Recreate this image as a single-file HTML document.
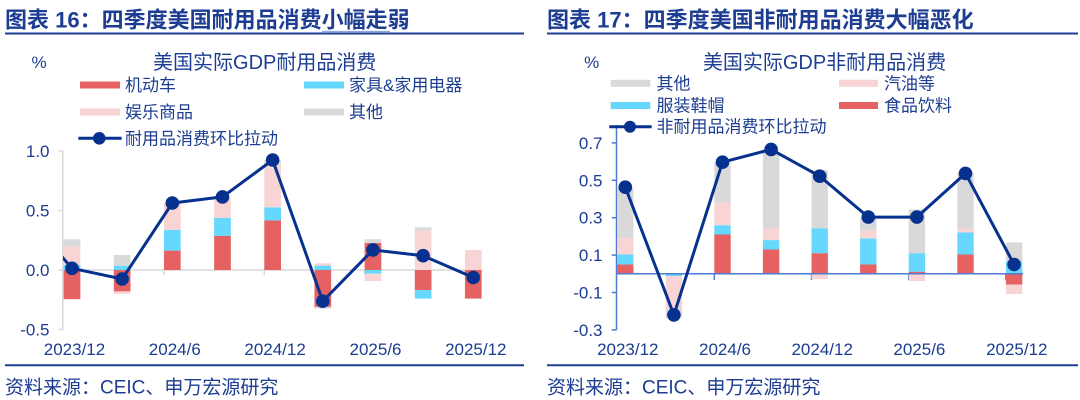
<!DOCTYPE html>
<html><head><meta charset="utf-8"><style>
html,body{margin:0;padding:0;background:#fff;}
svg{display:block;}
text{font-family:"Liberation Sans","Noto Sans CJK SC",sans-serif;fill:#1c3d92;}
</style></head><body>
<svg width="1080" height="400" viewBox="0 0 1080 400" xmlns="http://www.w3.org/2000/svg">
<defs>
<clipPath id="cl"><rect x="63" y="100" width="430" height="250"/></clipPath>
</defs>
<!-- Titles -->
<text x="5" y="27.5" font-size="22" font-weight="bold">图表 16：四季度美国耐用品消费小幅走弱</text>
<line x1="322" y1="31.5" x2="390" y2="31.5" stroke="#8ea6dc" stroke-width="1.2"/>
<line x1="5" y1="33.5" x2="524" y2="33.5" stroke="#1f3d94" stroke-width="2"/>
<text x="547" y="27.5" font-size="22" font-weight="bold">图表 17：四季度美国非耐用品消费大幅恶化</text>
<line x1="547" y1="33.5" x2="1078" y2="33.5" stroke="#1f3d94" stroke-width="2"/>

<!-- LEFT CHART -->
<text x="39" y="68" font-size="17" text-anchor="middle">%</text>
<text x="264.7" y="69" font-size="20" text-anchor="middle">美国实际GDP耐用品消费</text>
<rect x="80" y="81.5" width="40" height="7" fill="#e66161"/>
<text x="125" y="91" font-size="17">机动车</text>
<rect x="304" y="81.5" width="40" height="7" fill="#66d8fd"/>
<text x="349" y="91" font-size="17">家具&amp;家用电器</text>
<rect x="80" y="108.5" width="40" height="7" fill="#f9d4d4"/>
<text x="125" y="118" font-size="17">娱乐商品</text>
<rect x="304" y="108.5" width="40" height="7" fill="#d9d9d9"/>
<text x="349" y="118" font-size="17">其他</text>
<line x1="78.3" y1="138.3" x2="121.7" y2="138.3" stroke="#06318f" stroke-width="3"/>
<circle cx="99.3" cy="138.3" r="6.3" fill="#06318f"/>
<text x="125" y="144.3" font-size="17">耐用品消费环比拉动</text>

<!-- axes -->
<line x1="62.8" y1="150.7" x2="62.8" y2="329.5" stroke="#d9d9d9" stroke-width="1.5"/>
<g stroke="#d9d9d9" stroke-width="1.5">
<line x1="58.5" y1="151" x2="62.8" y2="151"/>
<line x1="58.5" y1="210.5" x2="62.8" y2="210.5"/>
<line x1="58.5" y1="270" x2="62.8" y2="270"/>
<line x1="58.5" y1="329.5" x2="62.8" y2="329.5"/>
<line x1="62.8" y1="270" x2="482" y2="270"/>
<line x1="164" y1="270" x2="164" y2="275"/>
<line x1="264.3" y1="270" x2="264.3" y2="275"/>
<line x1="364.6" y1="270" x2="364.6" y2="275"/>
<line x1="464.9" y1="270" x2="464.9" y2="275"/>
</g>
<g font-size="17" text-anchor="end">
<text x="49.5" y="157">1.0</text>
<text x="49.5" y="216.5">0.5</text>
<text x="49.5" y="276">0.0</text>
<text x="49.5" y="335.5">-0.5</text>
</g>
<g font-size="17" text-anchor="middle">
<text x="74.5" y="355">2023/12</text>
<text x="174.8" y="355">2024/6</text>
<text x="275.1" y="355">2024/12</text>
<text x="375.5" y="355">2025/6</text>
<text x="475.8" y="355">2025/12</text>
</g>
<!-- bars left -->
<g>
<rect x="63.65" y="270" width="16.7" height="29.2" fill="#e66161"/>
<rect x="63.65" y="265" width="16.7" height="5" fill="#66d8fd"/>
<rect x="63.65" y="246.6" width="16.7" height="18.4" fill="#f9d4d4"/>
<rect x="63.65" y="239.3" width="16.7" height="7.3" fill="#d9d9d9"/>

<rect x="113.8" y="265.7" width="16.7" height="4.3" fill="#66d8fd"/>
<rect x="113.8" y="255" width="16.7" height="10.7" fill="#d9d9d9"/>
<rect x="113.8" y="270" width="16.7" height="21.4" fill="#e66161"/>
<rect x="113.8" y="291.4" width="16.7" height="2.4" fill="#f9d4d4"/>

<rect x="163.97" y="250.6" width="16.7" height="19.4" fill="#e66161"/>
<rect x="163.97" y="229.8" width="16.7" height="20.8" fill="#66d8fd"/>
<rect x="163.97" y="203" width="16.7" height="26.8" fill="#f9d4d4"/>

<rect x="214.13" y="235.8" width="16.7" height="34.2" fill="#e66161"/>
<rect x="214.13" y="217.8" width="16.7" height="18" fill="#66d8fd"/>
<rect x="214.13" y="197.9" width="16.7" height="19.9" fill="#f9d4d4"/>

<rect x="264.29" y="220.4" width="16.7" height="49.6" fill="#e66161"/>
<rect x="264.29" y="207.3" width="16.7" height="13.1" fill="#66d8fd"/>
<rect x="264.29" y="164.4" width="16.7" height="42.9" fill="#f9d4d4"/>
<rect x="264.29" y="160" width="16.7" height="4.4" fill="#d9d9d9"/>

<rect x="314.45" y="270" width="16.7" height="36.9" fill="#e66161"/>
<rect x="314.45" y="306.9" width="16.7" height="1.7" fill="#d9d9d9"/>
<rect x="314.45" y="265.6" width="16.7" height="4.4" fill="#66d8fd"/>
<rect x="314.45" y="263.3" width="16.7" height="2.3" fill="#f9d4d4"/>

<rect x="364.61" y="242.9" width="16.7" height="27.1" fill="#e66161"/>
<rect x="364.61" y="239.2" width="16.7" height="3.7" fill="#d9d9d9"/>
<rect x="364.61" y="270" width="16.7" height="3.7" fill="#66d8fd"/>
<rect x="364.61" y="273.7" width="16.7" height="7.4" fill="#f9d4d4"/>

<rect x="414.77" y="270" width="16.7" height="20.1" fill="#e66161"/>
<rect x="414.77" y="290.1" width="16.7" height="8.5" fill="#66d8fd"/>
<rect x="414.77" y="230.7" width="16.7" height="39.3" fill="#f9d4d4"/>
<rect x="414.77" y="227.4" width="16.7" height="3.3" fill="#d9d9d9"/>

<rect x="464.93" y="270" width="16.7" height="28.6" fill="#e66161"/>
<rect x="464.93" y="250" width="16.7" height="20" fill="#f9d4d4"/>
</g>
<polyline clip-path="url(#cl)" points="21.84,210.6 72,268.3 122.16,279 172.32,203 222.48,196.9 272.64,160 322.8,301.2 372.96,249.9 423.12,255.7 473.28,277.5" fill="none" stroke="#06318f" stroke-width="3" stroke-linejoin="round"/>
<g fill="#06318f">
<circle cx="72" cy="268.3" r="6.8"/>
<circle cx="122.16" cy="279" r="6.8"/>
<circle cx="172.32" cy="203" r="6.8"/>
<circle cx="222.48" cy="196.9" r="6.8"/>
<circle cx="272.64" cy="160" r="6.8"/>
<circle cx="322.8" cy="301.2" r="6.8"/>
<circle cx="372.96" cy="249.9" r="6.8"/>
<circle cx="423.12" cy="255.7" r="6.8"/>
<circle cx="473.28" cy="277.5" r="6.8"/>
</g>
<line x1="5" y1="365.3" x2="524" y2="365.3" stroke="#1f3d94" stroke-width="2"/>
<text x="5" y="393.3" font-size="19">资料来源：CEIC、申万宏源研究</text>

<!-- RIGHT CHART -->
<text x="591.7" y="68" font-size="17" text-anchor="middle">%</text>
<text x="824.5" y="69" font-size="20" text-anchor="middle">美国实际GDP非耐用品消费</text>
<rect x="610.7" y="79.8" width="39.6" height="7" fill="#d9d9d9"/>
<text x="656.5" y="89.3" font-size="17">其他</text>
<rect x="839" y="79.8" width="39" height="7" fill="#f9d4d4"/>
<text x="884" y="89.3" font-size="17">汽油等</text>
<rect x="610.7" y="102" width="39.6" height="7" fill="#66d8fd"/>
<text x="656.5" y="111.5" font-size="17">服装鞋帽</text>
<rect x="839" y="102" width="39" height="7" fill="#e66161"/>
<text x="884" y="111.5" font-size="17">食品饮料</text>

<!-- axes -->
<line x1="616.5" y1="125" x2="616.5" y2="330" stroke="#4f7bd2" stroke-width="1.5"/>
<g stroke="#4f7bd2" stroke-width="1.5">
<line x1="611.7" y1="142.9" x2="616.5" y2="142.9"/>
<line x1="611.7" y1="180.3" x2="616.5" y2="180.3"/>
<line x1="611.7" y1="217.7" x2="616.5" y2="217.7"/>
<line x1="611.7" y1="255.1" x2="616.5" y2="255.1"/>
<line x1="611.7" y1="292.5" x2="616.5" y2="292.5"/>
<line x1="611.7" y1="329.9" x2="616.5" y2="329.9"/>
<line x1="616.5" y1="273.8" x2="1023" y2="273.8"/>
<line x1="714.3" y1="273.8" x2="714.3" y2="280"/>
<line x1="811.5" y1="273.8" x2="811.5" y2="280"/>
<line x1="908.7" y1="273.8" x2="908.7" y2="280"/>
<line x1="1005.9" y1="273.8" x2="1005.9" y2="280"/>
</g>
<line x1="609.3" y1="126.7" x2="651.7" y2="126.7" stroke="#06318f" stroke-width="3"/>
<circle cx="630" cy="126.7" r="6" fill="#06318f"/>
<text x="656.5" y="132.7" font-size="17">非耐用品消费环比拉动</text>
<g font-size="17" text-anchor="end">
<text x="602.5" y="148.9">0.7</text>
<text x="602.5" y="186.3">0.5</text>
<text x="602.5" y="223.7">0.3</text>
<text x="602.5" y="261.1">0.1</text>
<text x="602.5" y="298.5">-0.1</text>
<text x="602.5" y="335.9">-0.3</text>
</g>
<g font-size="17" text-anchor="middle">
<text x="627.8" y="355">2023/12</text>
<text x="725" y="355">2024/6</text>
<text x="822.2" y="355">2024/12</text>
<text x="919.4" y="355">2025/6</text>
<text x="1016.8" y="355">2025/12</text>
</g>
<g>
<rect x="617.1" y="264.45" width="16.4" height="9.35" fill="#e66161"/>
<rect x="617.1" y="254.5" width="16.4" height="9.95" fill="#66d8fd"/>
<rect x="617.1" y="237.7" width="16.4" height="16.8" fill="#f9d4d4"/>
<rect x="617.1" y="187.8" width="16.4" height="49.9" fill="#d9d9d9"/>

<rect x="665.7" y="273.8" width="16.4" height="0.8" fill="#e66161"/>
<rect x="665.7" y="274.6" width="16.4" height="1.5" fill="#66d8fd"/>
<rect x="665.7" y="276.1" width="16.4" height="32.3" fill="#f9d4d4"/>
<rect x="665.7" y="308.4" width="16.4" height="9.3" fill="#d9d9d9"/>

<rect x="714.3" y="234.5" width="16.4" height="39.3" fill="#e66161"/>
<rect x="714.3" y="225.2" width="16.4" height="9.3" fill="#66d8fd"/>
<rect x="714.3" y="202.7" width="16.4" height="22.5" fill="#f9d4d4"/>
<rect x="714.3" y="162.7" width="16.4" height="40" fill="#d9d9d9"/>

<rect x="762.9" y="249.5" width="16.4" height="24.3" fill="#e66161"/>
<rect x="762.9" y="240.1" width="16.4" height="9.4" fill="#66d8fd"/>
<rect x="762.9" y="228.5" width="16.4" height="11.6" fill="#f9d4d4"/>
<rect x="762.9" y="150.4" width="16.4" height="78.1" fill="#d9d9d9"/>

<rect x="811.5" y="253.2" width="16.4" height="20.6" fill="#e66161"/>
<rect x="811.5" y="228.5" width="16.4" height="24.7" fill="#66d8fd"/>
<rect x="811.5" y="170.2" width="16.4" height="58.3" fill="#d9d9d9"/>
<rect x="811.5" y="273.8" width="16.4" height="5.4" fill="#f9d4d4"/>

<rect x="860.1" y="264.45" width="16.4" height="9.35" fill="#e66161"/>
<rect x="860.1" y="238.3" width="16.4" height="26.15" fill="#66d8fd"/>
<rect x="860.1" y="230.4" width="16.4" height="7.9" fill="#f9d4d4"/>
<rect x="860.1" y="217.7" width="16.4" height="12.7" fill="#d9d9d9"/>

<rect x="908.7" y="271.7" width="16.4" height="2.1" fill="#e66161"/>
<rect x="908.7" y="253.2" width="16.4" height="18.5" fill="#66d8fd"/>
<rect x="908.7" y="209.5" width="16.4" height="43.7" fill="#d9d9d9"/>
<rect x="908.7" y="273.8" width="16.4" height="7.3" fill="#f9d4d4"/>

<rect x="957.3" y="254.5" width="16.4" height="19.3" fill="#e66161"/>
<rect x="957.3" y="232.5" width="16.4" height="22" fill="#66d8fd"/>
<rect x="957.3" y="228.5" width="16.4" height="4" fill="#f9d4d4"/>
<rect x="957.3" y="172.8" width="16.4" height="55.7" fill="#d9d9d9"/>

<rect x="1005.9" y="261.1" width="16.4" height="12.7" fill="#66d8fd"/>
<rect x="1005.9" y="242.4" width="16.4" height="18.7" fill="#d9d9d9"/>
<rect x="1005.9" y="273.8" width="16.4" height="10.8" fill="#e66161"/>
<rect x="1005.9" y="284.6" width="16.4" height="9.4" fill="#f9d4d4"/>
</g>
<line x1="616.5" y1="273.8" x2="1023" y2="273.8" stroke="#4f7bd2" stroke-width="1.5"/>
<polyline points="625.3,187.2 673.9,314.9 722.5,162.2 771.1,149.4 819.7,176.2 868.3,217.1 916.9,217.1 965.5,173.4 1014.1,264.5" fill="none" stroke="#06318f" stroke-width="3" stroke-linejoin="round"/>
<g fill="#06318f">
<circle cx="625.3" cy="187.2" r="6.8"/>
<circle cx="673.9" cy="314.9" r="6.8"/>
<circle cx="722.5" cy="162.2" r="6.8"/>
<circle cx="771.1" cy="149.4" r="6.8"/>
<circle cx="819.7" cy="176.2" r="6.8"/>
<circle cx="868.3" cy="217.1" r="6.8"/>
<circle cx="916.9" cy="217.1" r="6.8"/>
<circle cx="965.5" cy="173.4" r="6.8"/>
<circle cx="1014.1" cy="264.5" r="6.8"/>
</g>
<line x1="547" y1="365.3" x2="1078" y2="365.3" stroke="#1f3d94" stroke-width="2"/>
<text x="547" y="393.3" font-size="19">资料来源：CEIC、申万宏源研究</text>
</svg>
</body></html>
